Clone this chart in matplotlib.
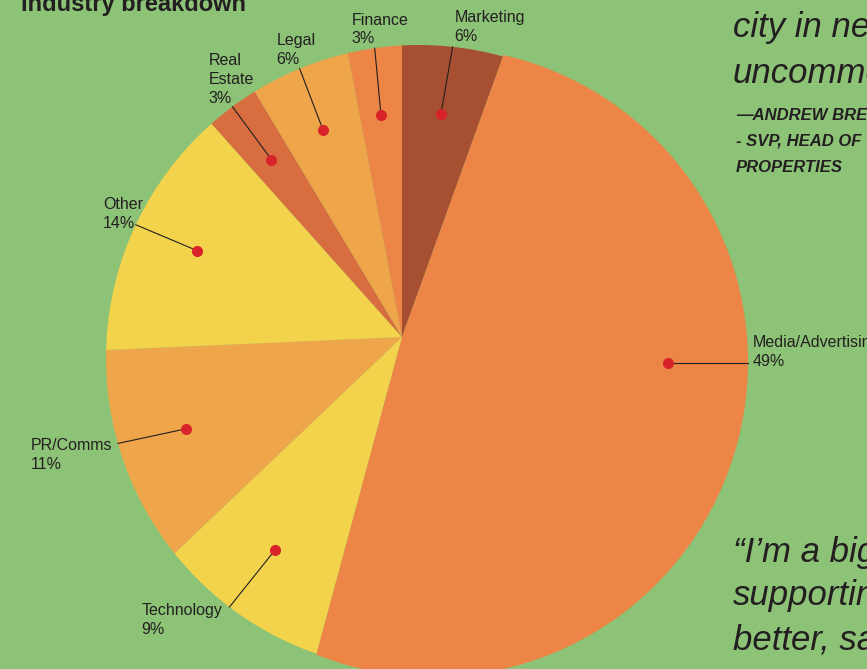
import numpy as np
import matplotlib.pyplot as plt
from matplotlib.patches import Circle

plt.rcParams["font.family"] = ["Liberation Sans", "DejaVu Sans"]

# 業種別の構成比
industries = ["Marketing", "Media/Advertising", "Technology", "PR/Comms",
              "Other", "Real\nEstate", "Legal", "Finance"]
shares = [5.5, 48.7, 8.7, 11.4, 14.1, 3.0, 5.6, 3.0]
pct_text = ["6%", "49%", "9%", "11%", "14%", "3%", "6%", "3%"]

colors = ["#A65031", "#EC8546", "#F3D24C", "#EFA64A",
          "#F3D24C", "#D86D40", "#EFA64A", "#EC8546"]
green = "#8DC377"
ink = "#231F20"

# 右側の引用文（画面の端で切れている）
quote_top = ["city in new", "uncommon"]
credit = ["\u2014ANDREW BRE", "- SVP, HEAD OF", "PROPERTIES"]
quote_bottom = ["\u201cI\u2019m a big", "supporting", "better, sa"]

# ラベルの置き方 (ha, va, dx, dy) と引き出し線の角度の補正
label_pos = [("left", "baseline", 2, 6), ("left", "baseline", 5, -3),
             ("right", "top", -7, 4), ("right", "top", -6, 5),
             ("right", "baseline", 7, -3), ("center", "baseline", -1, 4),
             ("center", "baseline", -3.5, 5), ("center", "baseline", 5.5, 5)]
angle_fix = {1: -5.5}
end_shift = {2: -1.8, 3: -2.5}  # 線の先だけ少し回す
flat_leader = {1}  # Media は水平の引き出し線

fig = plt.figure(figsize=(8.67, 6.69), dpi=100, facecolor=green)
ax = fig.add_axes([0, 0, 1, 1])
ax.set_facecolor(green)

apex = np.array([402.0, 332.0])
# 外周: 0 = 通常, 1 = Media だけ少し右に膨らんでいる
rims = [((419.0, 311.0), 313.0), ((433.0, 307.0), 315.0)]

wedges, _ = ax.pie(shares, colors=colors, startangle=90, counterclock=False,
                   center=tuple(apex), radius=400,
                   wedgeprops=dict(linewidth=0))


def rim_dist(ang, rim):
    c, r = rim
    d = np.array([np.cos(np.radians(ang)), np.sin(np.radians(ang))])
    p = apex - np.array(c)
    b = p @ d
    return -b + np.sqrt(b * b - p @ p + r * r), d


for i, w in enumerate(wedges):
    rim = rims[1] if i == 1 else rims[0]
    w.set_clip_on(True)
    w.set_clip_path(Circle(rim[0], rim[1], transform=ax.transData))
    ang = angle_fix.get(i, (w.theta1 + w.theta2) / 2)
    t, d = rim_dist(ang, rim)
    dot = apex + 0.77 * t * d
    t2, d2 = rim_dist(ang + end_shift.get(i, 0), rim)
    end = apex + t2 * d2
    if i in flat_leader:
        (cx, cy), r = rim
        end = np.array([cx + np.sqrt(r * r - (dot[1] - cy) ** 2), dot[1]])
    ax.plot([dot[0], end[0]], [dot[1], end[1]], color=ink, lw=0.8, zorder=3)
    ax.plot(dot[0], dot[1], "o", ms=8, color="#D8232A", mec="none", zorder=4)
    ha, va, dx, dy = label_pos[i]
    ax.text(end[0] + dx, end[1] + dy, industries[i] + "\n" + pct_text[i],
            ha=ha, va=va, multialignment="left", fontsize=11.5, color=ink,
            linespacing=1.3, zorder=5)

ax.text(21, 658, "Industry breakdown", fontsize=17, fontweight="bold",
        color=ink, ha="left", va="baseline")

for s, y in zip(quote_top, [632, 586]):
    ax.text(733, y, s, fontsize=25, style="italic", color=ink, va="baseline")
for s, y in zip(credit, [549, 523, 497]):
    ax.text(736, y, s, fontsize=12, style="italic", fontweight="bold",
            color=ink, va="baseline")
for s, y in zip(quote_bottom, [107, 64, 19]):
    ax.text(733, y, s, fontsize=25, style="italic", color=ink, va="baseline")

ax.set_xlim(0, 867)
ax.set_ylim(0, 669)
ax.set_aspect("auto")
ax.axis("off")

fig.savefig("out.png", dpi=100, facecolor=green)
